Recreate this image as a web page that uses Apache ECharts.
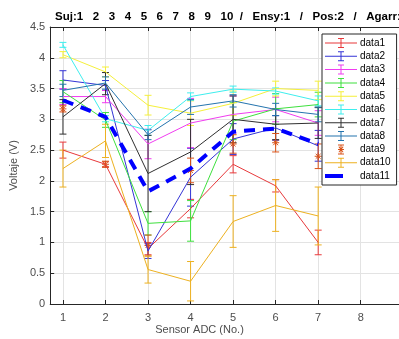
<!DOCTYPE html>
<html>
<head>
<meta charset="utf-8">
<script src="https://cdn.jsdelivr.net/npm/echarts@6/dist/echarts.min.js"></script>
<style>
  html, body { margin: 0; padding: 0; background: #fff; }
  #chart { width: 399px; height: 339px; }
</style>
</head>
<body>
<div id="chart"></div>
<script>
// sensor positions
const sensors = [1, 2, 3, 4, 5, 6, 7];
const xTicks = [1, 2, 3, 4, 5, 6, 7, 8];

// means per curve
const data1 = [2.50, 2.27, 0.90, 1.55, 2.27, 1.92, 1.00];
const data2 = [3.64, 3.55, 0.86, 2.06, 2.68, 2.86, 2.57];
const data3 = [3.37, 3.37, 2.60, 2.94, 3.08, 3.16, 2.94];
const data4 = [3.45, 2.99, 1.31, 1.35, 2.97, 3.17, 3.24];
const data5 = [4.05, 3.77, 3.23, 3.10, 3.26, 3.50, 3.47];
const data6 = [4.21, 3.01, 2.82, 3.37, 3.49, 3.46, 3.30];
const data7 = [3.04, 3.58, 2.12, 2.47, 3.00, 2.92, 2.94];
const data8 = [3.47, 3.59, 2.75, 3.20, 3.30, 3.16, 3.08];
const data9 = [3.17, 2.27, 0.95, 2.17, 2.60, 2.62, 2.40];
const data10 = [2.20, 2.65, 0.56, 0.37, 1.34, 1.60, 1.43];
const data11 = [3.31, 3.04, 1.83, 2.20, 2.80, 2.85, 2.60];

// error half-widths
const err1 = [0.13, 0.04, 0.10, 0.15, 0.14, 0.10, 0.20];
const err2 = [0.15, 0.08, 0.12, 0.47, 0.25, 0.20, 0.25];
const err3 = [0.13, 0.10, 0.24, 0.40, 0.30, 0.20, 0.20];
const err4 = [0.18, 0.12, 0.19, 0.33, 0.30, 0.25, 0.20];
const err5 = [0.05, 0.08, 0.16, 0.20, 0.20, 0.12, 0.15];
const err6 = [0.04, 0.05, 0.08, 0.06, 0.05, 0.05, 0.08];
const err7 = [0.28, 0.18, 0.62, 0.53, 0.38, 0.25, 0.25];
const err8 = [0.10, 0.10, 0.08, 0.12, 0.10, 0.10, 0.12];
const err9 = [0.05, 0.05, 0.17, 0.20, 0.15, 0.15, 0.20];
const err10 = [0.30, 0.27, 0.22, 0.32, 0.42, 0.42, 0.47];

const chart = echarts.init(document.getElementById('chart'), null, { renderer: 'canvas' });

const curves = [
  { name: 'data1', vals: data1, err: err1, color: '#e8393b' },
  { name: 'data2', vals: data2, err: err2, color: '#3434d6' },
  { name: 'data3', vals: data3, err: err3, color: '#f03cf0' },
  { name: 'data4', vals: data4, err: err4, color: '#3ee03e' },
  { name: 'data5', vals: data5, err: err5, color: '#f5f03a' },
  { name: 'data6', vals: data6, err: err6, color: '#3eeeee' },
  { name: 'data7', vals: data7, err: err7, color: '#303030' },
  { name: 'data8', vals: data8, err: err8, color: '#2474ae' },
  { name: 'data9', vals: data9, err: err9, color: '#d95319', star: true, noLine: true },
  { name: 'data10', vals: data10, err: err10, color: '#edb120' },
];

const font = 'Liberation Sans';

// legend icons (32 x 10 box)
const ebIcon = 'path://M0 4.5H32V5.5H0Z M15.5 0H16.5V10H15.5Z M13 0H19V1H13Z M13 9H19V10H13Z';
const starIcon = 'path://M0 5H0.01V5.01H0Z M31.99 5H32V5.01H31.99Z M15.5 0H16.5V10H15.5Z M13 0H19V1H13Z M13 9H19V10H13Z M13 4.5H19V5.5H13Z M13.5 2.5L14.2 1.8L18.5 7.5L17.8 8.2Z M17.8 1.8L18.5 2.5L14.2 8.2L13.5 7.5Z';
const dashIcon = 'path://M0 0H0.01V0.01H0Z M31.99 9.99H32V10H31.99Z M0 3H18V7H0Z';

function ebRender(c) {
  return function (params, api) {
    const x = api.value(0), y = api.value(1), e = api.value(2);
    const top = api.coord([x, y + e]);
    const bot = api.coord([x, y - e]);
    const mid = api.coord([x, y]);
    const w = 3.5;
    const st = { stroke: c.color, lineWidth: 1, fill: null };
    const children = [
      { type: 'line', shape: { x1: top[0], y1: top[1], x2: bot[0], y2: bot[1] }, style: st },
      { type: 'line', shape: { x1: top[0] - w, y1: top[1], x2: top[0] + w, y2: top[1] }, style: st },
      { type: 'line', shape: { x1: bot[0] - w, y1: bot[1], x2: bot[0] + w, y2: bot[1] }, style: st }
    ];
    if (c.star) {
      const r = 3.5;
      [[r, 0], [0, r], [r * 0.7, r * 0.7], [r * 0.7, -r * 0.7]].forEach(d => {
        children.push({ type: 'line', shape: { x1: mid[0] - d[0], y1: mid[1] - d[1], x2: mid[0] + d[0], y2: mid[1] + d[1] }, style: st });
      });
    }
    return { type: 'group', children };
  };
}

const series = [];
curves.forEach(c => {
  series.push({
    name: c.name,
    type: 'line',
    data: sensors.map((s, i) => [s, c.vals[i]]),
    symbol: 'none',
    itemStyle: { color: c.color },
    lineStyle: { color: c.color, width: 1, opacity: c.noLine ? 0 : 1 },
    z: 3
  });
  series.push({
    name: 'eb_' + c.name,
    type: 'custom',
    renderItem: ebRender(c),
    data: sensors.map((s, i) => [s, c.vals[i], c.err[i]]),
    encode: { x: 0, y: 1 },
    z: 3
  });
});
series.push({
  name: 'data11',
  type: 'line',
  data: sensors.map((s, i) => [s, data11[i]]),
  symbol: 'none',
  itemStyle: { color: '#0000ff' },
  lineStyle: { color: '#0000ff', width: 4, type: [11, 8] },
  z: 4
});

const legendData = curves.map(c => ({
  name: c.name,
  icon: c.star ? starIcon : ebIcon
}));
legendData.push({ name: 'data11', icon: dashIcon });

const option = {
  animation: false,
  backgroundColor: '#fff',
  title: {
    text: 'Suj:1   2   3   4   5   6   7   8   9   10  /   Ensy:1   /   Pos:2   /   Agarr:3',
    left: 50,
    top: 6,
    textStyle: { fontFamily: font, fontSize: 11.5, fontWeight: 'bold', color: '#000' }
  },
  legend: {
    data: legendData,
    orient: 'vertical',
    left: 322,
    top: 34,
    itemWidth: 32,
    itemHeight: 10,
    itemGap: 3.3,
    padding: [4, 6, 4, 3],
    symbolKeepAspect: false,
    backgroundColor: '#fff',
    borderColor: '#262626',
    borderWidth: 1,
    borderRadius: 0,
    itemStyle: { borderWidth: 0 },
    textStyle: { fontFamily: font, fontSize: 10, color: '#000', padding: [0, 0, 0, -2] },
    z: 10
  },
  grid: { left: 50, top: 27, width: 351, height: 277 },
  xAxis: [{
    type: 'value',
    min: 0.7,
    max: 8.9,
    position: 'bottom',
    axisLine: { show: true, lineStyle: { color: '#262626', width: 1 } },
    axisTick: { show: true, inside: true, length: 4, customValues: xTicks, lineStyle: { color: '#262626' } },
    axisLabel: { customValues: xTicks, fontFamily: font, fontSize: 11, color: '#4d4d4d', margin: 8 },
    splitLine: { show: true, lineStyle: { color: '#e3e3e3', width: 1 } }
  }, {
    type: 'value',
    min: 0.7,
    max: 8.9,
    position: 'top',
    axisLine: { show: true, onZero: false, lineStyle: { color: '#262626', width: 1 } },
    axisTick: { show: true, inside: true, length: 4, customValues: xTicks, lineStyle: { color: '#262626' } },
    axisLabel: { show: false },
    splitLine: { show: false }
  }],
  yAxis: {
    type: 'value',
    min: 0,
    max: 4.5,
    interval: 0.5,
    name: 'Voltaje (V)',
    nameLocation: 'middle',
    nameGap: 24,
    nameTextStyle: { fontFamily: font, fontSize: 11, color: '#4d4d4d' },
    axisLine: { show: true, lineStyle: { color: '#262626', width: 1 } },
    axisTick: { show: true, inside: true, length: 4, lineStyle: { color: '#262626' } },
    axisLabel: { fontFamily: font, fontSize: 11, color: '#4d4d4d', margin: 5 },
    splitLine: { show: true, lineStyle: { color: '#e3e3e3', width: 1 } }
  },
  graphic: [{
    type: 'text',
    left: 'center',
    top: 324,
    style: { text: 'Sensor ADC (No.)', fontFamily: font, fontSize: 11, fill: '#4d4d4d' }
  }],
  series
};

chart.setOption(option);
</script>
</body>
</html>
